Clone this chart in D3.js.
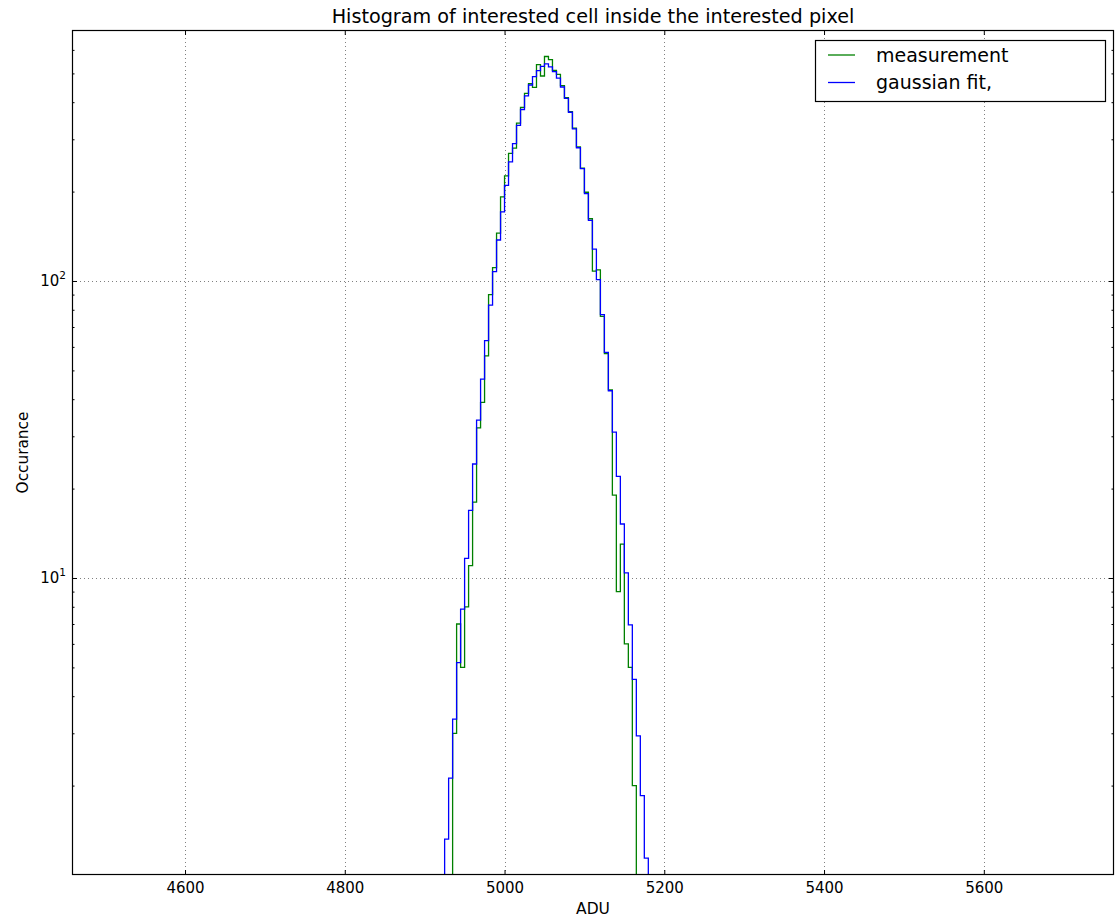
<!DOCTYPE html>
<html>
<head>
<meta charset="utf-8">
<script src="https://cdn.jsdelivr.net/npm/d3@7"></script>
<style>
  body { margin: 0; background: #fff; }
  text { font-family: "DejaVu Sans", sans-serif; fill: #000; }
</style>
</head>
<body>
<svg id="chart" width="1115" height="917"></svg>
<script>
// Histogram bins are 5 ADU wide; each array lists the left edge of a bin.
const binWidth = 5;

const measurementEdges = [
  4935, 4940, 4945, 4950, 4955, 4960, 4965, 4970, 4975, 4980, 4985, 4990, 4995,
  5000, 5005, 5010, 5015, 5020, 5025, 5030, 5035, 5040, 5045, 5050, 5055, 5060,
  5065, 5070, 5075, 5080, 5085, 5090, 5095, 5100, 5105, 5110, 5115, 5120, 5125,
  5130, 5135, 5140, 5145, 5150, 5155, 5160
];
const measurementCounts = [
  3, 7, 5, 8, 11, 18, 32, 39, 56, 90, 111, 145, 192,
  226, 269, 280, 340, 384, 428, 462, 449, 535, 490, 570, 556, 512,
  496, 455, 414, 372, 327, 283, 240, 199, 162, 108, 109, 76, 57,
  43, 19, 9, 13, 6, 5, 2
];

const fitEdges = [
  4925, 4930, 4935, 4940, 4945, 4950, 4955, 4960, 4965, 4970, 4975, 4980, 4985,
  4990, 4995, 5000, 5005, 5010, 5015, 5020, 5025, 5030, 5035, 5040, 5045, 5050,
  5055, 5060, 5065, 5070, 5075, 5080, 5085, 5090, 5095, 5100, 5105, 5110, 5115,
  5120, 5125, 5130, 5135, 5140, 5145, 5150, 5155, 5160, 5165, 5170, 5175
];
const fitCounts = [
  1.32, 2.12, 3.35, 5.19, 7.85, 11.65, 16.9, 24.2, 34.0, 46.7, 63, 83, 107.5,
  137.4, 171, 210, 252, 290, 334, 378, 420, 457, 488, 511, 528, 538,
  526, 507, 482, 450, 412, 370, 325, 281, 239, 197, 160, 128, 101,
  77, 57.5, 42.7, 31, 22, 15.2, 10.4, 6.95, 4.56, 2.94, 1.85, 1.14
];

const xTicks = [4600, 4800, 5000, 5200, 5400, 5600];
const yMajorTicks = [10, 100];
const yTickExponents = ["1", "2"];
const yMinorTicks = [2, 3, 4, 5, 6, 7, 8, 9, 20, 30, 40, 50, 60, 70, 80, 90, 200, 300, 400, 500, 600];

const plot = { left: 72, top: 30, right: 1114, bottom: 875 };

const svg = d3.select("#chart");

const x = d3.scaleLinear().domain([4458.5, 5763]).range([plot.left, plot.right]);
const y = d3.scaleLog().domain([1, 700]).range([plot.bottom, plot.top]);

svg.append("defs").append("clipPath").attr("id", "plot-clip")
  .append("rect")
  .attr("x", plot.left).attr("y", plot.top)
  .attr("width", plot.right - plot.left).attr("height", plot.bottom - plot.top);

// Dotted grid at the major ticks
const grid = svg.append("g").attr("stroke", "#808080").attr("stroke-width", 1)
  .attr("stroke-dasharray", "1,3");
grid.selectAll("line.gx").data(xTicks).join("line").attr("class", "gx")
  .attr("x1", d => Math.round(x(d)) + 0.5).attr("x2", d => Math.round(x(d)) + 0.5)
  .attr("y1", plot.top).attr("y2", plot.bottom);
grid.selectAll("line.gy").data(yMajorTicks).join("line").attr("class", "gy")
  .attr("x1", plot.left).attr("x2", plot.right)
  .attr("y1", d => Math.round(y(d)) + 0.5).attr("y2", d => Math.round(y(d)) + 0.5);

// Step outline of a histogram, rising from the bottom of the axes
function stepPoints(edges, counts) {
  const base = y.domain()[0];
  const pts = [[edges[0], base]];
  edges.forEach((e, i) => {
    pts.push([e, counts[i]]);
    pts.push([e + binWidth, counts[i]]);
  });
  pts.push([edges[edges.length - 1] + binWidth, base]);
  return pts;
}
const stepLine = d3.line().x(d => x(d[0])).y(d => y(d[1]));

const marks = svg.append("g").attr("clip-path", "url(#plot-clip)").attr("fill", "none")
  .attr("stroke-width", 1.3).attr("stroke-linejoin", "miter");
marks.append("path").attr("d", stepLine(stepPoints(measurementEdges, measurementCounts)))
  .attr("stroke", "#008000");
marks.append("path").attr("d", stepLine(stepPoints(fitEdges, fitCounts)))
  .attr("stroke", "#0000ff");

// Axes with inward ticks on all four sides
const tickStyle = g => {
  g.select(".domain").remove();
  g.selectAll(".tick line").attr("stroke", "#000").attr("stroke-width", 1);
  g.selectAll("text").attr("font-size", 15).attr("font-family", "DejaVu Sans");
};

svg.append("g").attr("transform", `translate(0,${plot.bottom})`)
  .call(d3.axisBottom(x).tickValues(xTicks).tickSize(-5).tickPadding(0).tickFormat(d3.format("d")))
  .call(tickStyle)
  .call(g => g.selectAll("text").attr("dy", null).attr("y", 18));
svg.append("g").attr("transform", `translate(0,${plot.top})`)
  .call(d3.axisTop(x).tickValues(xTicks).tickSize(-5).tickFormat(""))
  .call(tickStyle);

svg.append("g").attr("transform", `translate(${plot.left},0)`)
  .call(d3.axisLeft(y).tickValues(yMajorTicks).tickSize(-5).tickFormat(""))
  .call(tickStyle);
svg.append("g").attr("transform", `translate(${plot.left},0)`)
  .call(d3.axisLeft(y).tickValues(yMinorTicks).tickSize(-2.5).tickFormat(""))
  .call(tickStyle);
svg.append("g").attr("transform", `translate(${plot.right},0)`)
  .call(d3.axisRight(y).tickValues(yMajorTicks).tickSize(-5).tickFormat(""))
  .call(tickStyle);
svg.append("g").attr("transform", `translate(${plot.right},0)`)
  .call(d3.axisRight(y).tickValues(yMinorTicks).tickSize(-2.5).tickFormat(""))
  .call(tickStyle);

// Log tick labels written as 10 with a superscript exponent
const yLabels = svg.append("g").attr("font-size", 15).attr("text-anchor", "end");
yMajorTicks.forEach((t, i) => {
  const lbl = yLabels.append("text").attr("x", plot.left - 6).attr("y", y(t) + 5.5);
  lbl.append("tspan").text("10");
  lbl.append("tspan").attr("font-size", 10.5).attr("dy", -7).text(yTickExponents[i]);
});

// Axes frame
svg.append("rect")
  .attr("x", plot.left + 0.5).attr("y", plot.top + 0.5)
  .attr("width", plot.right - plot.left - 1).attr("height", plot.bottom - plot.top - 1)
  .attr("fill", "none").attr("stroke", "#000").attr("stroke-width", 1.2);

// Titles
svg.append("text").attr("x", (plot.left + plot.right) / 2).attr("y", 23)
  .attr("text-anchor", "middle").attr("font-size", 19.2)
  .text("Histogram of interested cell inside the interested pixel");
svg.append("text").attr("x", (plot.left + plot.right) / 2).attr("y", 914)
  .attr("text-anchor", "middle").attr("font-size", 15.5).text("ADU");
svg.append("text")
  .attr("transform", `translate(27.5,${(plot.top + plot.bottom) / 2}) rotate(-90)`)
  .attr("text-anchor", "middle").attr("font-size", 15.3).text("Occurance");

// Legend
const legendItems = [
  { label: "measurement", color: "#008000" },
  { label: "gaussian fit,", color: "#0000ff" }
];
const legend = svg.append("g");
legend.append("rect").attr("x", 815.5).attr("y", 40.5).attr("width", 290).attr("height", 61)
  .attr("fill", "#fff").attr("stroke", "#000").attr("stroke-width", 1.2);
legendItems.forEach((item, i) => {
  const cy = 55 + i * 27.5;
  legend.append("line").attr("x1", 828).attr("x2", 855).attr("y1", cy).attr("y2", cy)
    .attr("stroke", item.color).attr("stroke-width", 1.3);
  legend.append("text").attr("x", 876).attr("y", cy + 6.8).attr("font-size", 19).text(item.label);
});
</script>
</body>
</html>
